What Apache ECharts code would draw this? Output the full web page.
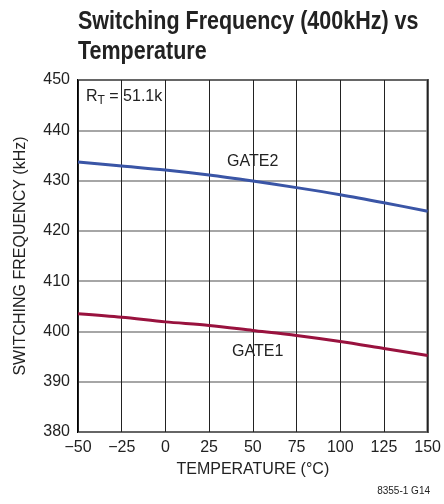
<!DOCTYPE html>
<html><head><meta charset="utf-8">
<script src="https://cdn.jsdelivr.net/npm/echarts@6/dist/echarts.min.js"></script>
<style>html,body{margin:0;padding:0;background:#fff}#c{width:444px;height:504px}</style>
</head><body><div id="c"></div>
<script>
const temps = [-50, -25, 0, 25, 50, 75, 100, 125, 150];
const gate2 = [433.7, 432.9, 432.1, 431.1, 429.9, 428.6, 427.2, 425.6, 423.9];
const gate1 = [403.5, 402.8, 401.9, 401.2, 400.2, 399.2, 398.0, 396.6, 395.2];
const FONT = '"Liberation Sans Narrow", "Liberation Sans", Arial, sans-serif';
const chart = echarts.init(document.getElementById('c'));
const pair = a => temps.map((t, i) => [t, a[i]]);
chart.setOption({
  animation: false,
  grid: {left: 78, right: 15, top: 80, bottom: 72, show: true, borderColor: '#000', borderWidth: 2, backgroundColor: 'transparent'},
  xAxis: {
    type: 'value', min: -50, max: 150, interval: 25,
    name: 'TEMPERATURE (°C)', nameLocation: 'middle', nameGap: 30,
    nameTextStyle: {fontFamily: FONT, fontSize: 16, color: '#222'},
    axisLine: {show: false}, axisTick: {show: false},
    axisLabel: {fontFamily: FONT, fontSize: 16, color: '#222', margin: 8, formatter: v => String(v).replace('-', '\u2212')},
    splitLine: {show: true, lineStyle: {color: '#222', width: 1}}
  },
  yAxis: {
    type: 'value', min: 380, max: 450, interval: 10,
    name: 'SWITCHING FREQUENCY (kHz)', nameLocation: 'middle', nameGap: 49,
    nameTextStyle: {fontFamily: FONT, fontSize: 16, color: '#222'},
    axisLine: {show: false}, axisTick: {show: false},
    axisLabel: {fontFamily: FONT, fontSize: 16, color: '#222', margin: 8},
    splitLine: {show: true, lineStyle: {color: '#888', width: 1.5}}
  },
  series: [
    {type: 'line', data: pair(gate2), smooth: 0.3, symbol: 'none', lineStyle: {color: '#3a55a6', width: 3}},
    {type: 'line', data: pair(gate1), smooth: 0.3, symbol: 'none', lineStyle: {color: '#99123e', width: 3}}
  ],
  graphic: [
    {type: 'text', x: 78, y: 7, scaleX: 0.86, style: {
      text: 'Switching Frequency (400kHz) vs\nTemperature', fontFamily: FONT, fontWeight: 'bold', fontSize: 25, lineHeight: 30, fill: '#222'}},
    {type: 'text', left: 84, top: 86, style: {
      text: '{a|R}{s|T}{a| = 51.1k}', backgroundColor: '#fff', padding: [1, 2],
      rich: {a: {fontFamily: FONT, fontSize: 16, fill: '#222', color: '#222'}, s: {fontFamily: FONT, fontSize: 12, verticalAlign: 'bottom', padding: [8, 0, 0, 0], fill: '#222', color: '#222'}}
    }},
    {type: 'text', left: 225, top: 153, style: {text: 'GATE2', fontFamily: FONT, fontSize: 16, fill: '#222', backgroundColor: '#fff', padding: [1, 2]}},
    {type: 'text', left: 230, top: 343, style: {text: 'GATE1', fontFamily: FONT, fontSize: 16, fill: '#222', backgroundColor: '#fff', padding: [1, 2]}},
    {type: 'text', right: 14, top: 486, style: {text: '8355-1 G14', fontFamily: FONT, fontSize: 10, fill: '#222'}}
  ]
});
</script></body></html>
